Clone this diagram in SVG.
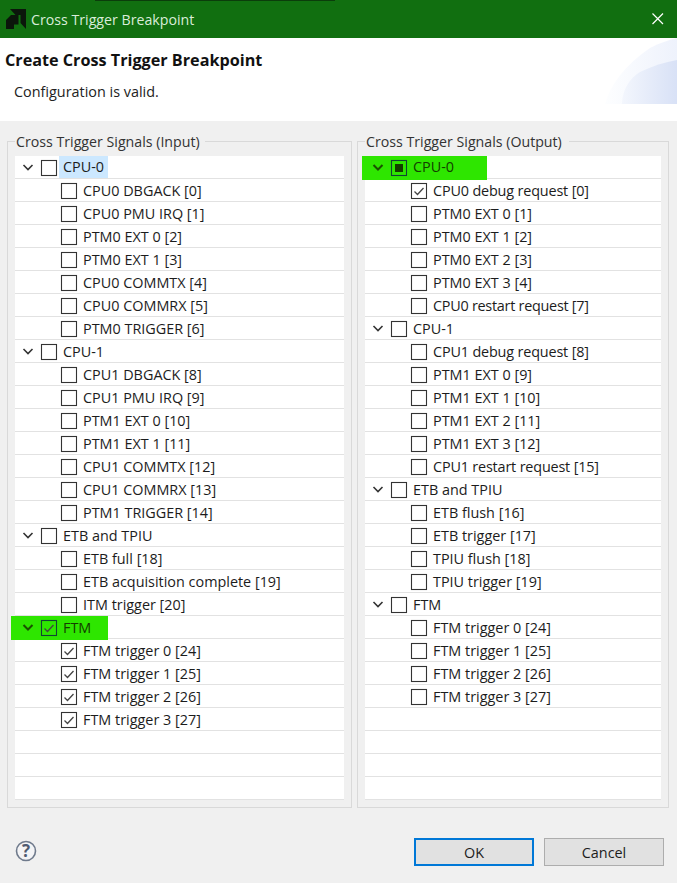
<svg xmlns="http://www.w3.org/2000/svg" width="677" height="883" viewBox="0 0 677 883">
<style>
text{font-family:"Open Sans","Noto Sans","Liberation Sans",sans-serif;font-size:14.4px;fill:#1c1c1c}
.rl{stroke:#e2e2e2;stroke-width:1.2;fill:none}
.cb{fill:#fff;stroke:#333;stroke-width:1.1}
.tk{fill:none;stroke:#444;stroke-width:1.3}
.cv{fill:none;stroke:#333;stroke-width:1.6}
.cvd{fill:none;stroke:#1a5000;stroke-width:2}
.gb{fill:none;stroke:#d9d9d9;stroke-width:1}
.gt{fill:#333;font-size:14.2px}
.hl{fill:#2ee600}
.hb{fill:#2ee600;stroke:#143;stroke-width:1.1}
.hm{fill:#143d00}
</style>
<defs>
<rect id="box" class="cb" x="0.5" y="-7.5" width="15" height="15"/>
<path id="tick" class="tk" d="M3.5 0.5L6.5 3.5L12.5-3"/>
<path id="chev" class="cv" d="M-4.5-2L0 2.5L4.5-2"/>
<path id="chevd" class="cvd" d="M-4.5-2L0 2.5L4.5-2"/>
<linearGradient id="arcA" gradientUnits="userSpaceOnUse" x1="605" y1="0" x2="677" y2="0"><stop offset="0" stop-color="#fdfeff"/><stop offset="1" stop-color="#eef2fc"/></linearGradient>
<linearGradient id="arcB" gradientUnits="userSpaceOnUse" x1="620" y1="0" x2="677" y2="0"><stop offset="0" stop-color="#f4f7fd"/><stop offset="1" stop-color="#d8e1f6"/></linearGradient>
</defs>
<rect width="677" height="883" fill="#f0f0f0"/>
<g id="titlebar">
<rect width="677" height="38" fill="#116f10"/>
<rect x="95" width="240" height="1" fill="#0b3d0b"/>
<path d="M10 9H26V29L20.500 23V15H15.500Z M6 29V20L11 15H18.500V24.500H14V29Z" fill="#0b160b"/>
<text x="31" y="25" style="fill:#d9ecd9;font-size:14.2px">Cross Trigger Breakpoint</text>
<path d="M652.500 13.500L663 24M663 13.500L652.500 24" stroke="#fff" stroke-width="1.200" fill="none"/>
</g>
<g id="header">
<rect y="38" width="677" height="83" fill="#fff"/>
<path d="M605 104C610 85 625 65 650 48C660 43 668 40 677 38V104Z" fill="url(#arcA)"/>
<path d="M622 104C622 90 630 78 640 72C652 66 665 62 677 60V104Z" fill="url(#arcB)"/>
<text x="5" y="66" style="font-size:16.200px;font-weight:700;fill:#111">Create Cross Trigger Breakpoint</text>
<text x="14" y="97" style="fill:#222">Configuration is valid.</text>
</g>
<g id="input-panel">
<rect class="gb" x="7.500" y="141.500" width="344" height="666"/>
<rect x="15" y="130" width="190" height="20" fill="#f0f0f0"/>
<text class="gt" x="16" y="147">Cross Trigger Signals (Input)</text>
<rect x="15" y="156" width="329" height="644" fill="#fff"/>
<path class="rl" d="M15 178.500H344M15 201.500H344M15 224.500H344M15 247.500H344M15 270.500H344M15 293.500H344M15 316.500H344M15 339.500H344M15 362.500H344M15 385.500H344M15 408.500H344M15 431.500H344M15 454.500H344M15 477.500H344M15 500.500H344M15 523.500H344M15 546.500H344M15 569.500H344M15 592.500H344M15 615.500H344M15 638.500H344M15 661.500H344M15 684.500H344M15 707.500H344M15 730.500H344M15 753.500H344M15 776.500H344M15 799.500H344"/>
<rect x="59" y="156" width="49" height="22" fill="#cce8ff"/>
<rect class="hl" x="11" y="616" width="97" height="24"/>
</g>
<g id="output-panel">
<rect class="gb" x="357.500" y="141.500" width="311" height="666"/>
<rect x="365" y="130" width="204" height="20" fill="#f0f0f0"/>
<text class="gt" x="366" y="147">Cross Trigger Signals (Output)</text>
<rect x="365" y="156" width="296" height="644" fill="#fff"/>
<path class="rl" d="M365 178.500H661M365 201.500H661M365 224.500H661M365 247.500H661M365 270.500H661M365 293.500H661M365 316.500H661M365 339.500H661M365 362.500H661M365 385.500H661M365 408.500H661M365 431.500H661M365 454.500H661M365 477.500H661M365 500.500H661M365 523.500H661M365 546.500H661M365 569.500H661M365 592.500H661M365 615.500H661M365 638.500H661M365 661.500H661M365 684.500H661M365 707.500H661M365 730.500H661M365 753.500H661M365 776.500H661M365 799.500H661"/>
<rect class="hl" x="362" y="156" width="125" height="24"/>
</g>
<g id="input-tree">
<g id="i-cpu0"><use href="#chev" x="28" y="167"/><use href="#box" x="41" y="168"/><text x="63" y="172">CPU-0</text></g>
<g id="i0"><use href="#box" x="61" y="191"/><text x="83" y="196">CPU0 DBGACK [0]</text></g>
<g id="i1"><use href="#box" x="61" y="214"/><text x="83" y="219">CPU0 PMU IRQ [1]</text></g>
<g id="i2"><use href="#box" x="61" y="237"/><text x="83" y="242">PTM0 EXT 0 [2]</text></g>
<g id="i3"><use href="#box" x="61" y="260"/><text x="83" y="265">PTM0 EXT 1 [3]</text></g>
<g id="i4"><use href="#box" x="61" y="283"/><text x="83" y="288">CPU0 COMMTX [4]</text></g>
<g id="i5"><use href="#box" x="61" y="306"/><text x="83" y="311">CPU0 COMMRX [5]</text></g>
<g id="i6"><use href="#box" x="61" y="329"/><text x="83" y="334">PTM0 TRIGGER [6]</text></g>
<g id="i-cpu1"><use href="#chev" x="28" y="351"/><use href="#box" x="41" y="352"/><text x="63" y="357">CPU-1</text></g>
<g id="i8"><use href="#box" x="61" y="375"/><text x="83" y="380">CPU1 DBGACK [8]</text></g>
<g id="i9"><use href="#box" x="61" y="398"/><text x="83" y="403">CPU1 PMU IRQ [9]</text></g>
<g id="i10"><use href="#box" x="61" y="421"/><text x="83" y="426">PTM1 EXT 0 [10]</text></g>
<g id="i11"><use href="#box" x="61" y="444"/><text x="83" y="449">PTM1 EXT 1 [11]</text></g>
<g id="i12"><use href="#box" x="61" y="467"/><text x="83" y="472">CPU1 COMMTX [12]</text></g>
<g id="i13"><use href="#box" x="61" y="490"/><text x="83" y="495">CPU1 COMMRX [13]</text></g>
<g id="i14"><use href="#box" x="61" y="513"/><text x="83" y="518">PTM1 TRIGGER [14]</text></g>
<g id="i-etb"><use href="#chev" x="28" y="535"/><use href="#box" x="41" y="536"/><text x="63" y="541">ETB and TPIU</text></g>
<g id="i18"><use href="#box" x="61" y="559"/><text x="83" y="564">ETB full [18]</text></g>
<g id="i19"><use href="#box" x="61" y="582"/><text x="83" y="587">ETB acquisition complete [19]</text></g>
<g id="i20"><use href="#box" x="61" y="605"/><text x="83" y="610">ITM trigger [20]</text></g>
<g id="i-ftm"><use href="#chevd" x="28" y="627"/><rect class="hb" x="41.500" y="620.500" width="15" height="15"/><use href="#tick" x="41" y="628"/><text x="63" y="633" style="fill:#143d00">FTM</text></g>
<g id="i24"><use href="#box" x="61" y="651"/><use href="#tick" x="61" y="651"/><text x="83" y="656">FTM trigger 0 [24]</text></g>
<g id="i25"><use href="#box" x="61" y="674"/><use href="#tick" x="61" y="674"/><text x="83" y="679">FTM trigger 1 [25]</text></g>
<g id="i26"><use href="#box" x="61" y="697"/><use href="#tick" x="61" y="697"/><text x="83" y="702">FTM trigger 2 [26]</text></g>
<g id="i27"><use href="#box" x="61" y="720"/><use href="#tick" x="61" y="720"/><text x="83" y="725">FTM trigger 3 [27]</text></g>
</g>
<g id="output-tree">
<g id="o-cpu0"><use href="#chevd" x="378" y="167"/><rect class="hb" x="391.500" y="160.500" width="15" height="15"/><rect class="hm" x="395" y="164" width="8" height="8"/><text x="413" y="172" style="fill:#143d00">CPU-0</text></g>
<g id="o0"><use href="#box" x="411" y="191"/><use href="#tick" x="411" y="191"/><text x="433" y="196" textLength="156">CPU0 debug request [0]</text></g>
<g id="o1"><use href="#box" x="411" y="214"/><text x="433" y="219">PTM0 EXT 0 [1]</text></g>
<g id="o2"><use href="#box" x="411" y="237"/><text x="433" y="242">PTM0 EXT 1 [2]</text></g>
<g id="o3"><use href="#box" x="411" y="260"/><text x="433" y="265">PTM0 EXT 2 [3]</text></g>
<g id="o4"><use href="#box" x="411" y="283"/><text x="433" y="288">PTM0 EXT 3 [4]</text></g>
<g id="o7"><use href="#box" x="411" y="306"/><text x="433" y="311" textLength="156">CPU0 restart request [7]</text></g>
<g id="o-cpu1"><use href="#chev" x="378" y="328"/><use href="#box" x="391" y="329"/><text x="413" y="334">CPU-1</text></g>
<g id="o8"><use href="#box" x="411" y="352"/><text x="433" y="357" textLength="156">CPU1 debug request [8]</text></g>
<g id="o9"><use href="#box" x="411" y="375"/><text x="433" y="380">PTM1 EXT 0 [9]</text></g>
<g id="o10"><use href="#box" x="411" y="398"/><text x="433" y="403">PTM1 EXT 1 [10]</text></g>
<g id="o11"><use href="#box" x="411" y="421"/><text x="433" y="426">PTM1 EXT 2 [11]</text></g>
<g id="o12"><use href="#box" x="411" y="444"/><text x="433" y="449">PTM1 EXT 3 [12]</text></g>
<g id="o15"><use href="#box" x="411" y="467"/><text x="433" y="472" textLength="166">CPU1 restart request [15]</text></g>
<g id="o-etb"><use href="#chev" x="378" y="489"/><use href="#box" x="391" y="490"/><text x="413" y="495">ETB and TPIU</text></g>
<g id="o16"><use href="#box" x="411" y="513"/><text x="433" y="518">ETB flush [16]</text></g>
<g id="o17"><use href="#box" x="411" y="536"/><text x="433" y="541">ETB trigger [17]</text></g>
<g id="o18"><use href="#box" x="411" y="559"/><text x="433" y="564">TPIU flush [18]</text></g>
<g id="o19"><use href="#box" x="411" y="582"/><text x="433" y="587">TPIU trigger [19]</text></g>
<g id="o-ftm"><use href="#chev" x="378" y="604"/><use href="#box" x="391" y="605"/><text x="413" y="610">FTM</text></g>
<g id="o24"><use href="#box" x="411" y="628"/><text x="433" y="633">FTM trigger 0 [24]</text></g>
<g id="o25"><use href="#box" x="411" y="651"/><text x="433" y="656">FTM trigger 1 [25]</text></g>
<g id="o26"><use href="#box" x="411" y="674"/><text x="433" y="679">FTM trigger 2 [26]</text></g>
<g id="o27"><use href="#box" x="411" y="697"/><text x="433" y="702">FTM trigger 3 [27]</text></g>
</g>
<g id="connectors"/>
<g id="help"><circle cx="26" cy="851" r="9.500" fill="#f4f4f6" stroke="#6f7a8c" stroke-width="1.600"/><text x="26" y="857" text-anchor="middle" style="font-size:17px;font-weight:700;fill:#4f5b70">?</text></g>
<g id="ok"><rect x="415" y="839" width="118" height="26" fill="#e1e1e1" stroke="#0078d7" stroke-width="2"/><text x="474" y="858" text-anchor="middle">OK</text></g>
<g id="cancel"><rect x="544.500" y="838.500" width="119" height="27" fill="#e1e1e1" stroke="#adadad"/><text x="604" y="858" text-anchor="middle">Cancel</text></g>
</svg>
